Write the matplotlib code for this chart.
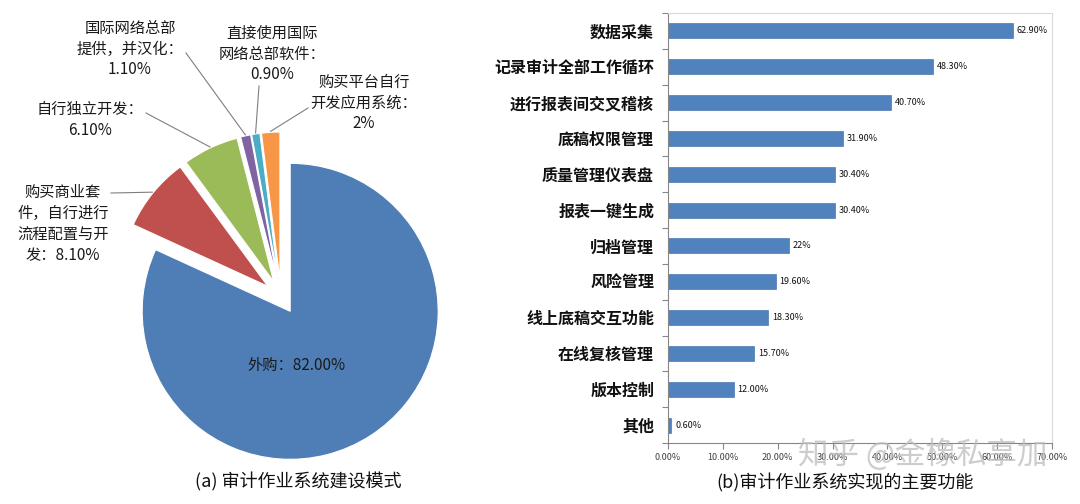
import numpy as np
import matplotlib
matplotlib.use("Agg")
import matplotlib.pyplot as plt
from matplotlib.ticker import MultipleLocator, FixedLocator, FuncFormatter

plt.rcParams['font.family'] = ['Noto Sans CJK SC', 'DejaVu Sans']

# ---------------- data ----------------
pie_values = [82.0, 8.1, 6.1, 1.1, 0.9, 2.0]
pie_labels = ["外购：82.00%",
              "购买商业套\n件，自行进行\n流程配置与开\n发：8.10%",
              "自行独立开发：\n6.10%",
              "国际网络总部\n提供，并汉化：\n1.10%",
              "直接使用国际\n网络总部软件：\n0.90%",
              "购买平台自行\n开发应用系统：\n2%"]
pie_colors = ["#4F7EB6", "#C0504D", "#9BBB59", "#8064A2", "#4BACC6", "#F79646"]

bar_categories = ["数据采集", "记录审计全部工作循环", "进行报表间交叉稽核", "底稿权限管理",
                  "质量管理仪表盘", "报表一键生成", "归档管理", "风险管理",
                  "线上底稿交互功能", "在线复核管理", "版本控制", "其他"]
bar_values = [62.9, 48.3, 40.7, 31.9, 30.4, 30.4, 22.0, 19.6, 18.3, 15.7, 12.0, 0.6]
bar_value_labels = ["62.90%", "48.30%", "40.70%", "31.90%", "30.40%", "30.40%", "22%",
                    "19.60%", "18.30%", "15.70%", "12.00%", "0.60%"]
x_ticks = [0, 10, 20, 30, 40, 50, 60, 70]

# ---------------- figure ----------------
W, H = 1080, 504
fig = plt.figure(figsize=(W / 100, H / 100), dpi=100)
fig.patch.set_facecolor("white")

# overlay axes in pixel coordinates (y up)
ax = fig.add_axes([0, 0, 1, 1])
ax.set_xlim(0, W)
ax.set_ylim(0, H)
ax.axis("off")

def py(y):  # pixel-from-top to data y
    return H - y

center = (281, py(297))
radius = 148
explode = [17] * len(pie_values)
wedges, _ = ax.pie(pie_values, colors=pie_colors, startangle=90, counterclock=False,
                   center=center, radius=radius, explode=explode, frame=True,
                   wedgeprops=dict(edgecolor="white", linewidth=0.8))
ax.set_xlim(0, W)
ax.set_ylim(0, H)
ax.set_aspect("auto")
ax.axis("off")

lab_fs = 11
# label text positions (center of text block, pixels from top) and leader start points
label_pos = [None, (63, 224), (90, 120), (130, 49), (272, 54), (364, 103)]
leader_start = [None, (111, 193), (146, 113), (186, 53), (259, 86), (308, 108)]

ax.text(297, py(365), pie_labels[0], ha="center", va="center", fontsize=lab_fs,
        color="#1a1a1a")
for i in range(1, len(pie_values)):
    w = wedges[i]
    th = np.deg2rad(0.5 * (w.theta1 + w.theta2))
    ex = w.center[0] + (w.r + 1) * np.cos(th)
    ey = w.center[1] + (w.r + 1) * np.sin(th)
    lx, ly = label_pos[i]
    ax.text(lx, py(ly), pie_labels[i], ha="center", va="center", fontsize=lab_fs,
            linespacing=1.3, color="#1a1a1a", multialignment="center")
    sx, sy = leader_start[i]
    ax.plot([sx, ex], [py(sy), ey], color="#7f7f7f", lw=0.8)

ax.text(298, py(482), "(a) 审计作业系统建设模式", ha="center", va="center", fontsize=13,
        color="#111111")
ax.text(845, py(483), "(b)审计作业系统实现的主要功能", ha="center", va="center", fontsize=13,
        color="#111111")

# ---------------- bar chart ----------------
L, R, T, B = 668, 1052, 13, 443
bx = fig.add_axes([L / W, (H - B) / H, (R - L) / W, (B - T) / H])
ypos = np.arange(len(bar_categories))
bx.barh(ypos, bar_values, height=0.42, color="#5082BE", edgecolor="#4A78AE", linewidth=0.5)
bx.set_xlim(0, 70)
bx.set_ylim(len(bar_categories) - 0.5, -0.5)
bx.set_yticks(ypos)
bx.set_yticklabels(bar_categories, fontsize=11.5, fontweight="bold", color="#111111")
bx.yaxis.set_minor_locator(FixedLocator(np.arange(-0.5, len(bar_categories), 1.0)))
bx.tick_params(axis="y", which="major", length=0, pad=10)
bx.tick_params(axis="y", which="minor", length=4, width=0.8, color="#868686")
bx.set_xticks(x_ticks)
bx.xaxis.set_major_formatter(FuncFormatter(lambda v, p: f"{v:.2f}%"))
bx.tick_params(axis="x", length=4, width=0.8, color="#868686", labelsize=6.5,
               labelcolor="#404040", pad=3)
for s in ["left", "bottom"]:
    bx.spines[s].set_color("#868686")
    bx.spines[s].set_linewidth(0.8)
for s in ["top", "right"]:
    bx.spines[s].set_color("#D9D9D9")
    bx.spines[s].set_linewidth(0.8)
for yv, v, t in zip(ypos, bar_values, bar_value_labels):
    bx.text(v + 0.7, yv, t, va="center", ha="left", fontsize=6.5, color="#111111")

# watermark
fig.text(923 / W, (H - 455) / H, "知乎 @金橡私享加", ha="center", va="center",
         fontsize=22, color="#bdbdbd", alpha=0.75, zorder=10)

fig.savefig("out.png", dpi=100, facecolor="white")
